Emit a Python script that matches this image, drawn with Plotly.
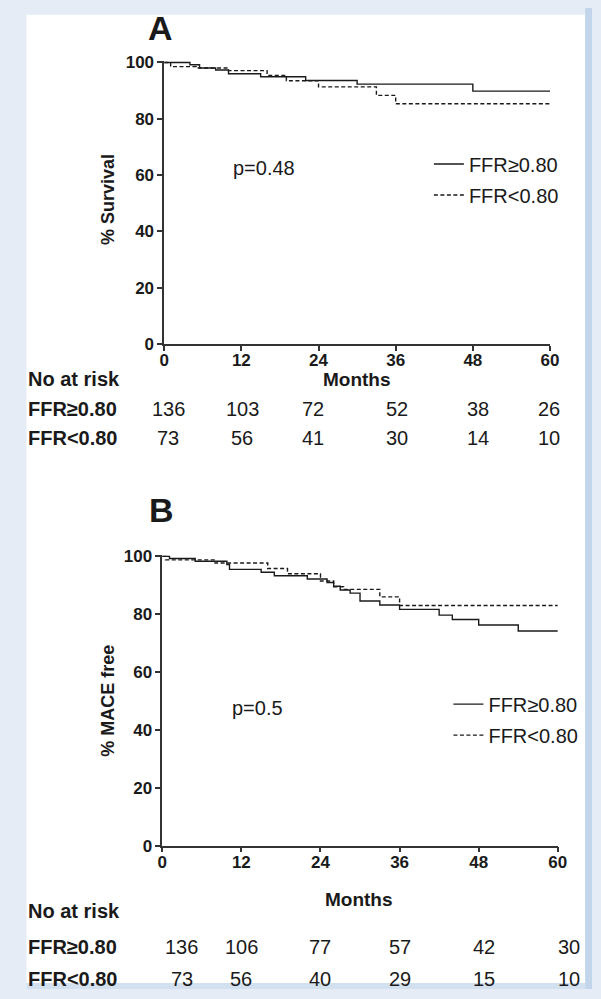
import plotly.graph_objects as go

W, H = 601, 999

# Kaplan-Meier step data: all-cause survival (panel A)
a_hi_t = [0, 4, 5.5, 8, 10, 15, 22, 30, 48, 60]
a_hi_s = [100, 99.2, 98.0, 97.3, 96.0, 94.9, 93.6, 92.3, 89.8, 89.8]
a_lo_t = [0, 1, 5, 10, 16, 19, 24, 33, 36, 60]
a_lo_s = [100, 98.5, 98.0, 97.1, 95.4, 93.5, 91.3, 88.3, 85.3, 85.3]

# MACE-free survival (panel B)
b_hi_t = [0, 1.1, 5, 9.8, 10.2, 15, 17, 22, 25, 26, 27, 28.5, 30, 33, 36, 42, 44, 48, 54, 60]
b_hi_s = [100, 99.3, 98.3, 97.2, 95.5, 94.5, 93.3, 92.2, 91.0, 89.7, 88.4, 87.3, 84.6, 83.2,
          81.7, 79.7, 78.2, 76.3, 74.2, 74.2]
b_lo_t = [0, 0.5, 8, 16, 19, 24, 26, 27.5, 33, 36, 60]
b_lo_s = [100, 98.8, 97.7, 95.8, 94.0, 91.5, 89.5, 88.6, 86.0, 83.0, 83.0]

x_ticks = [0, 12, 24, 36, 48, 60]
y_ticks = [0, 20, 40, 60, 80, 100]

group_labels = ["FFR\u22650.80", "FFR<0.80"]
a_risk_hi = [136, 103, 72, 52, 38, 26]
a_risk_lo = [73, 56, 41, 30, 14, 10]
b_risk_hi = [136, 106, 77, 57, 42, 30]
b_risk_lo = [73, 56, 40, 29, 15, 10]

p_a = "p=0.48"
p_b = "p=0.5"

FONT = "Liberation Sans, Arial, sans-serif"
INK = "#1a1a1a"


def px(x):
    return x / W


def py(y):
    return 1 - y / H


fig = go.Figure()

styles = [dict(color=INK, width=1.4), dict(color=INK, width=1.4, dash="4px,2.5px")]

for t, s, name, st in [(a_hi_t, a_hi_s, group_labels[0], styles[0]),
                       (a_lo_t, a_lo_s, group_labels[1], styles[1])]:
    fig.add_trace(go.Scatter(x=t, y=s, mode="lines", line=dict(shape="hv", **st), name=name,
                             xaxis="x", yaxis="y", legend="legend", legendgroup="a" + name))
for t, s, name, st in [(b_hi_t, b_hi_s, group_labels[0], styles[0]),
                       (b_lo_t, b_lo_s, group_labels[1], styles[1])]:
    fig.add_trace(go.Scatter(x=t, y=s, mode="lines", line=dict(shape="hv", **st), name=name,
                             xaxis="x2", yaxis="y2", legend="legend2", legendgroup="b" + name))

axis_common = dict(showline=True, linecolor="#333", linewidth=1.5, ticks="outside",
                   ticklen=5, tickwidth=1.5, tickcolor="#333", showgrid=False, zeroline=False,
                   tickfont=dict(family=FONT, size=17, color=INK, weight="bold"))

legend_common = dict(xanchor="left", yanchor="top", bgcolor="rgba(0,0,0,0)",
                     font=dict(family=FONT, size=20, color=INK), tracegroupgap=2,
                     traceorder="grouped", itemwidth=30)

fig.update_layout(
    width=W, height=H, margin=dict(l=0, r=0, t=0, b=0),
    paper_bgcolor="#e5ecf6", plot_bgcolor="rgba(0,0,0,0)",
    xaxis=dict(domain=[px(163), px(558)], range=[0, 60], tickvals=x_ticks, anchor="y",
               ticklabelstandoff=-5, **axis_common),
    yaxis=dict(domain=[py(342), py(54)], range=[0, 100.5], tickvals=y_ticks, anchor="x",
               **axis_common),
    xaxis2=dict(domain=[px(161), px(566)], range=[0, 60], tickvals=x_ticks, anchor="y2",
                ticklabelstandoff=-5, **axis_common),
    yaxis2=dict(domain=[py(853), py(557)], range=[0, 100.5], tickvals=y_ticks, anchor="x2",
                **axis_common),
    legend=dict(x=px(434), y=py(139), **legend_common),
    legend2=dict(x=px(454), y=py(689), **legend_common),
    shapes=[
        dict(type="rect", xref="paper", yref="paper", x0=px(22), x1=px(594), y0=py(993),
             y1=py(7), fillcolor="white", line=dict(width=0), layer="below"),
        dict(type="rect", xref="paper", yref="paper", x0=px(594), x1=1, y0=0, y1=1,
             fillcolor="#c3d5eb", line=dict(width=0), layer="below"),
        dict(type="rect", xref="paper", yref="paper", x0=px(22), x1=px(594), y0=0, y1=py(993),
             fillcolor="#d3e0f0", line=dict(width=0), layer="below"),
    ],
)

ann = []


def text(x, y, s, size, bold=False, xanchor="center", angle=0):
    ann.append(dict(x=px(x), y=py(y), xref="paper", yref="paper", text=s, showarrow=False,
                    xanchor=xanchor, yanchor="middle", textangle=angle,
                    font=dict(family=FONT, size=size, color=INK,
                              weight="bold" if bold else "normal")))


# panel A
text(159, 20, "A", 34, bold=True)
text(106, 195, "% Survival", 18, bold=True, angle=-90)
text(265, 163, p_a, 20)
text(360, 378, "Months", 19, bold=True)
text(22, 378, "No at risk", 20, bold=True, xanchor="left")
text(22, 408, group_labels[0], 20, bold=True, xanchor="left")
text(22, 438, group_labels[1], 20, bold=True, xanchor="left")
cols_a = [167, 243, 315, 401, 484, 557]
for c, v in zip(cols_a, a_risk_hi):
    text(c, 408, str(v), 20)
for c, v in zip(cols_a, a_risk_lo):
    text(c, 438, str(v), 20)

# panel B
text(160, 511, "B", 34, bold=True)
text(106, 706, "% MACE free", 18, bold=True, angle=-90)
text(259, 713, p_b, 20)
text(362, 908, "Months", 19, bold=True)
text(22, 920, "No at risk", 20, bold=True, xanchor="left")
text(22, 956, group_labels[0], 20, bold=True, xanchor="left")
text(22, 989, group_labels[1], 20, bold=True, xanchor="left")
cols_b = [181, 242, 323, 404, 490, 577]
for c, v in zip(cols_b, b_risk_hi):
    text(c, 956, str(v), 20)
for c, v in zip(cols_b, b_risk_lo):
    text(c, 989, str(v), 20)

fig.update_layout(annotations=ann)

fig.write_html("out.html")
